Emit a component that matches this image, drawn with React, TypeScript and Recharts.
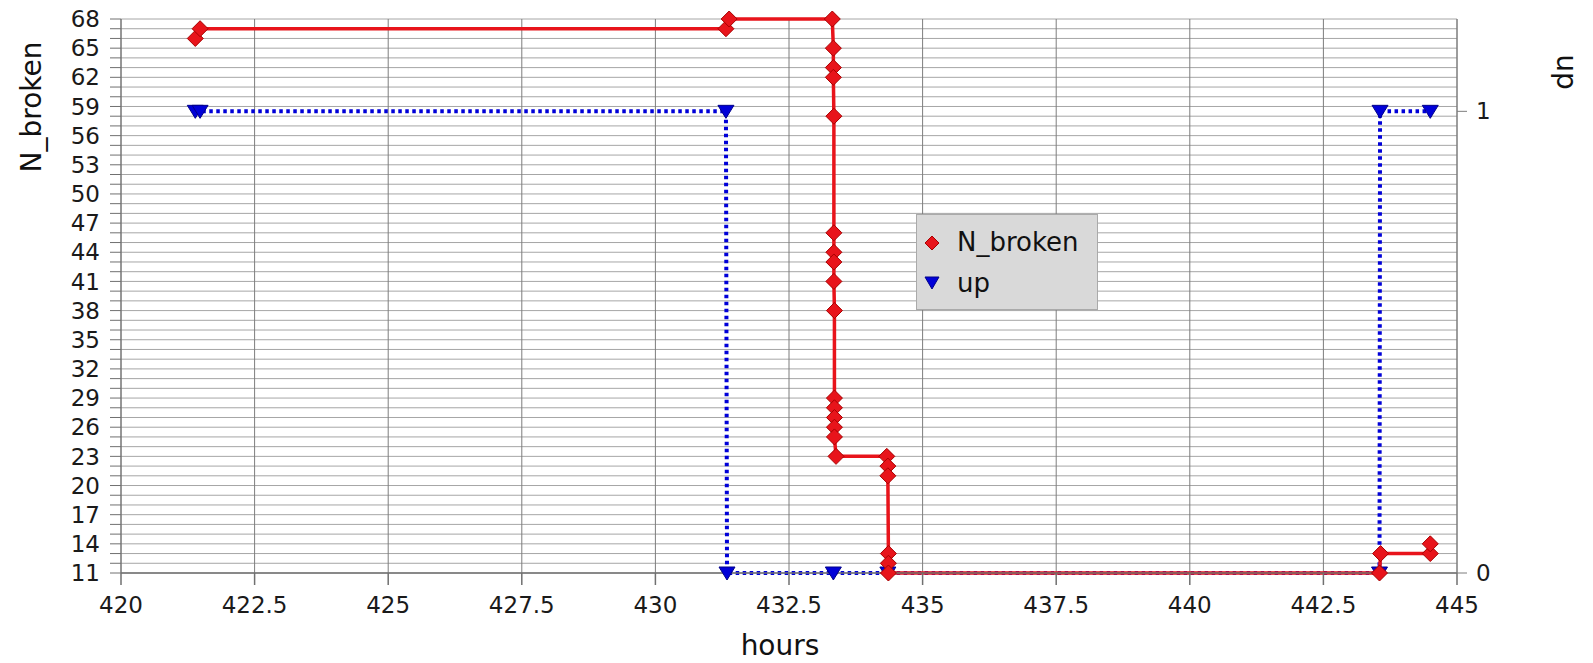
import React from 'react';
import {
  LineChart,
  Line,
  XAxis,
  YAxis,
  CartesianGrid,
  Legend,
} from 'recharts';

// N_broken samples: time in hours and count of broken items
const brokenHours = [
  421.39, 421.48, 431.32, 431.38, 433.31, 433.33, 433.33, 433.33, 433.34, 433.34,
  433.34, 433.34, 433.34, 433.35, 433.35, 433.35, 433.35, 433.35, 433.35, 433.38,
  434.33, 434.35, 434.35, 434.36, 434.36, 434.36, 443.55, 443.57, 444.5, 444.5,
];
const brokenCounts = [
  66, 67, 67, 68, 68, 65, 63, 62, 58, 46,
  44, 43, 41, 38, 29, 28, 27, 26, 25, 23,
  23, 22, 21, 13, 12, 11, 11, 13, 13, 14,
];

// up state samples (0 = down, 1 = up)
const upHours = [421.39, 421.48, 431.32, 431.34, 433.33, 434.35, 443.55, 443.56, 444.5];
const upStates = [1, 1, 1, 0, 0, 0, 0, 1, 1];

const hourTicks = [420, 422.5, 425, 427.5, 430, 432.5, 435, 437.5, 440, 442.5, 445];
const brokenLabels = [11, 14, 17, 20, 23, 26, 29, 32, 35, 38, 41, 44, 47, 50, 53, 56, 59, 62, 65, 68];
const brokenGrid = Array.from({ length: 58 }, (_, i) => 11 + i);
const upTicks = [0, 1];

const brokenData = brokenHours.map((h, i) => ({ h, n: brokenCounts[i] }));
const upData = upHours.map((h, i) => ({ h, up: upStates[i] }));

const FONT = 'DejaVu Sans';
const RED = '#e8141b';
const BLUE = '#0000d8';

const Diamond = ({ cx, cy }: { cx: number; cy: number }) => (
  <path
    d={`M${cx},${cy - 8}L${cx + 8},${cy}L${cx},${cy + 8}L${cx - 8},${cy}Z`}
    fill={RED}
    stroke="#a80000"
    strokeWidth={1}
  />
);

const Triangle = ({ cx, cy }: { cx: number; cy: number }) => (
  <path
    d={`M${cx - 8},${cy - 6}L${cx + 8},${cy - 6}L${cx},${cy + 7}Z`}
    fill={BLUE}
    stroke="#00008a"
    strokeWidth={1}
  />
);

const LegendBox = () => (
  <svg width={182} height={96} style={{ display: 'block' }}>
    <rect x={0.5} y={0.5} width={181} height={95} fill="#d9d9d9" stroke="#aaaaaa" />
    <path d="M16,22L23,29L16,36L9,29Z" fill={RED} stroke="#a80000" />
    <text x={41} y={37} fontFamily={FONT} fontSize={26} fill="#111">N_broken</text>
    <path d="M9,63L23,63L16,75Z" fill={BLUE} stroke="#00008a" />
    <text x={41} y={78} fontFamily={FONT} fontSize={26} fill="#111">up</text>
  </svg>
);

export default function App() {
  return (
    <div style={{ position: 'absolute', left: 0, top: 0, background: '#fff' }}>
      <LineChart
        width={1593}
        height={663}
        margin={{ top: 19, right: 0, bottom: 0, left: 0 }}
      >
        <CartesianGrid
          yAxisId="left"
          vertical={false}
          stroke="#a6a6a6"
          horizontalValues={brokenGrid}
        />
        <CartesianGrid
          yAxisId="left"
          horizontal={false}
          stroke="#7d7d7d"
          verticalValues={hourTicks}
        />
        <XAxis
          type="number"
          dataKey="h"
          domain={[420, 445]}
          ticks={hourTicks}
          height={90}
          tickSize={12}
          tickMargin={12}
          stroke="#707070"
          strokeWidth={1.5}
          tick={{ fill: '#1a1a1a', fontSize: 23, fontFamily: FONT }}
          label={() => (
            <text x={780} y={655} textAnchor="middle" fontFamily={FONT} fontSize={28} fill="#111">
              hours
            </text>
          )}
        />
        <YAxis
          yAxisId="left"
          domain={[11, 68]}
          ticks={brokenGrid}
          interval={0}
          width={121}
          tickSize={11}
          tickMargin={10}
          stroke="#707070"
          tickFormatter={(v: number) => (brokenLabels.includes(v) ? String(v) : '')}
          tick={{ fill: '#1a1a1a', fontSize: 23, fontFamily: FONT }}
          label={() => (
            <text
              x={41}
              y={107}
              transform="rotate(-90 41 107)"
              textAnchor="middle"
              fontFamily={FONT}
              fontSize={28}
              fill="#111"
            >
              N_broken
            </text>
          )}
        />
        <YAxis
          yAxisId="right"
          orientation="right"
          domain={[0, 1.2]}
          ticks={upTicks}
          width={136}
          tickSize={10}
          tickMargin={9}
          stroke="#7d7d7d"
          tick={{ fill: '#1a1a1a', fontSize: 23, fontFamily: FONT }}
          label={() => (
            <text
              x={1557}
              y={72}
              transform="rotate(90 1557 72)"
              textAnchor="middle"
              fontFamily={FONT}
              fontSize={28}
              fill="#111"
            >
              up
            </text>
          )}
        />
        <Legend
          layout="vertical"
          align="center"
          verticalAlign="middle"
          content={() => <LegendBox />}
          wrapperStyle={{ position: 'absolute', left: 916, top: 214, width: 182, height: 96 }}
        />
        <Line
          yAxisId="right"
          data={upData}
          dataKey="up"
          type="linear"
          stroke={BLUE}
          strokeWidth={4}
          strokeDasharray="3.5 3.5"
          isAnimationActive={false}
          activeDot={false}
          dot={(p: any) => <Triangle key={`u${p.index}`} cx={p.cx} cy={p.cy} />}
        />
        <Line
          yAxisId="left"
          data={brokenData}
          dataKey="n"
          type="linear"
          stroke={RED}
          strokeWidth={3.5}
          isAnimationActive={false}
          activeDot={false}
          dot={(p: any) => <Diamond key={`n${p.index}`} cx={p.cx} cy={p.cy} />}
        />
      </LineChart>
    </div>
  );
}
